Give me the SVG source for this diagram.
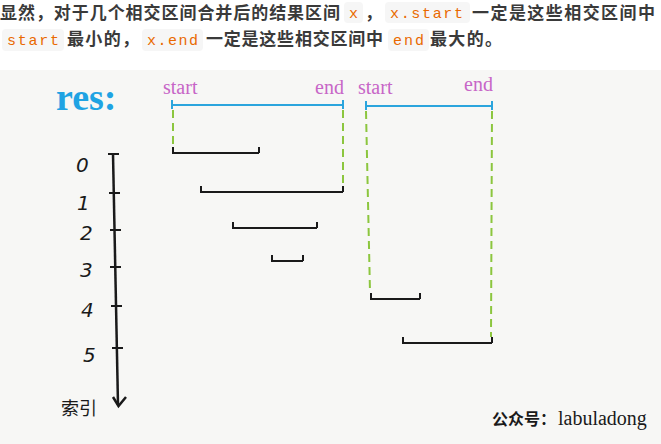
<svg xmlns="http://www.w3.org/2000/svg" width="661" height="444" viewBox="0 0 661 444">
<style>
.cn{font-family:"Noto Sans CJK SC","Noto Sans",sans-serif;font-size:17px;font-weight:bold;fill:#3a3a3a}
.code{font-family:"Liberation Mono",monospace;font-size:15px;fill:#e96900}
.cbox{fill:#f6f6f6}
.lbl{font-family:"Liberation Serif",serif;font-size:20px;fill:#c766c7}
.blue{stroke:#2ba5dd;stroke-width:2;fill:none}
.green{stroke:#8cc63e;stroke-width:2;fill:none;stroke-dasharray:8 5}
.iv{stroke:#1a1a1a;stroke-width:2;fill:none}
.num{font-family:"DejaVu Sans",sans-serif;font-size:20px;fill:#1a1a1a;font-style:italic}
</style>
<rect x="0" y="0" width="661" height="444" fill="#ffffff"/>
<g id="header">
<text class="cn" x="0" y="19" textLength="340" lengthAdjust="spacing">显然，对于几个相交区间合并后的结果区间</text>
<rect class="cbox" x="344" y="2" width="19" height="21" rx="4"/>
<text class="code" x="349" y="18">x</text>
<text class="cn" x="365" y="19">，</text>
<rect class="cbox" x="385" y="2" width="85" height="21" rx="4"/>
<text class="code" x="390" y="18" textLength="73" lengthAdjust="spacing">x.start</text>
<text class="cn" x="472" y="19" textLength="183" lengthAdjust="spacing">一定是这些相交区间中</text>
<rect class="cbox" x="2" y="29" width="62" height="22" rx="4"/>
<text class="code" x="7" y="45" textLength="52" lengthAdjust="spacing">start</text>
<text class="cn" x="67" y="45" textLength="72" lengthAdjust="spacing">最小的，</text>
<rect class="cbox" x="142" y="29" width="61" height="22" rx="4"/>
<text class="code" x="147" y="45" textLength="51" lengthAdjust="spacing">x.end</text>
<text class="cn" x="206" y="45" textLength="177" lengthAdjust="spacing">一定是这些相交区间中</text>
<rect class="cbox" x="388" y="29" width="41" height="22" rx="4"/>
<text class="code" x="393" y="45" textLength="31" lengthAdjust="spacing">end</text>
<text class="cn" x="430" y="45" textLength="72" lengthAdjust="spacing">最大的。</text>
</g>
<rect x="0" y="70" width="661" height="374" fill="#f7f7f5"/>
<g id="res-label">
<text x="56" y="110" font-family="Liberation Serif,serif" font-size="38" font-weight="bold" fill="#1fa3e3">res:</text>
</g>
<g id="axis">
<line x1="113" y1="154" x2="118" y2="405" stroke="#1a1a1a" stroke-width="2.5"/>
<path d="M113 397 L118.5 406 L126 397" stroke="#1a1a1a" stroke-width="2.5" fill="none"/>
<line x1="108" y1="154" x2="119" y2="154" stroke="#1a1a1a" stroke-width="2"/>
<line x1="109" y1="193" x2="120" y2="193" stroke="#1a1a1a" stroke-width="2"/>
<line x1="110" y1="230" x2="121" y2="230" stroke="#1a1a1a" stroke-width="2"/>
<line x1="110" y1="267" x2="121" y2="267" stroke="#1a1a1a" stroke-width="2"/>
<line x1="111" y1="306" x2="122" y2="306" stroke="#1a1a1a" stroke-width="2"/>
<line x1="112" y1="348" x2="123" y2="348" stroke="#1a1a1a" stroke-width="2"/>
<text class="num" x="76" y="172">0</text>
<text class="num" x="77" y="210">1</text>
<text class="num" x="80" y="240">2</text>
<text class="num" x="80" y="277">3</text>
<text class="num" x="81" y="317">4</text>
<text class="num" x="83" y="362">5</text>
<text x="61" y="415" font-family="Noto Sans CJK SC,sans-serif" font-size="18" fill="#1a1a1a">索引</text>
</g>
<g id="merged-1">
<text class="lbl" x="163" y="94">start</text>
<text class="lbl" x="315" y="94">end</text>
<path class="blue" d="M172 105 H343 M172 100 V109 M343 100 V109"/>
</g>
<g id="merged-2">
<text class="lbl" x="358" y="94">start</text>
<text class="lbl" x="464" y="91">end</text>
<path class="blue" d="M366 106 H492 M366 101 V110 M492 101 V110"/>
</g>
<g id="connectors">
<line class="green" x1="173" y1="110" x2="173" y2="149"/>
<line class="green" x1="343" y1="110" x2="343" y2="186"/>
<line class="green" x1="366" y1="111" x2="370" y2="292"/>
<line class="green" x1="492" y1="111" x2="491" y2="337"/>
</g>
<g id="interval-0"><path class="iv" d="M173 147 V153 H259 M259 147 V153"/></g>
<g id="interval-1"><path class="iv" d="M201 186 V192 H343 M343 186 V192"/></g>
<g id="interval-2"><path class="iv" d="M233 222 V228 H317 M317 222 V228"/></g>
<g id="interval-3"><path class="iv" d="M272 255 V261 H303 M303 255 V261"/></g>
<g id="interval-4"><path class="iv" d="M371 293 V299 H420 M420 293 V299"/></g>
<g id="interval-5"><path class="iv" d="M403 337 V343 H492 M492 337 V343"/></g>
<g id="watermark">
<text x="492" y="425" font-family="Noto Sans CJK SC,sans-serif" font-size="16" font-weight="bold" fill="#1a1a1a">公众号：</text>
<text x="558" y="425" font-family="Liberation Serif,serif" font-size="20" fill="#1a1a1a">labuladong</text>
</g>
</svg>
